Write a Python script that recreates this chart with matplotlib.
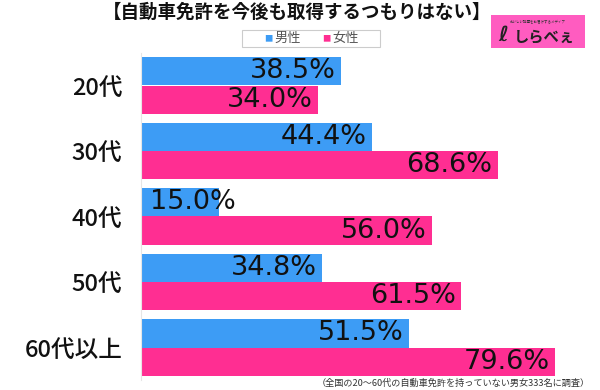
import matplotlib
matplotlib.use("Agg")
import matplotlib.pyplot as plt
from matplotlib.patches import Rectangle
import numpy as np

plt.rcParams['font.family'] = ['Noto Sans CJK JP', 'DejaVu Sans']

title = "【自動車免許を今後も取得するつもりはない】"
categories = ["20代", "30代", "40代", "50代", "60代以上"]
series_names = ["男性", "女性"]
male = [38.5, 44.4, 15.0, 34.8, 51.5]
female = [34.0, 68.6, 56.0, 61.5, 79.6]
footnote = "（全国の20〜60代の自動車免許を持っていない男女333名に調査）"

blue = "#3D9CF5"
pink = "#FF2E92"

fig = plt.figure(figsize=(6, 3.9), dpi=100)
ax = fig.add_axes([141/600, 1-380.25/390, 1-141/600, (380.25-52.75)/390])

y = np.arange(len(categories))
h = 0.43
off = 0.215
ax.barh(y - off, male, height=h, color=blue)
ax.barh(y + off, female, height=h, color=pink)

ax.set_xlim(0, 459/5.2)
ax.set_ylim(len(categories) - 0.5, -0.5)
ax.set_yticks(y)
ax.set_yticklabels(categories, fontsize=17, family=['Noto Sans CJK JP'],
                   fontweight='medium', color='#111111')
ax.tick_params(axis='y', length=0, pad=13.5)
ax.set_xticks([])
for s in ['top', 'right', 'bottom']:
    ax.spines[s].set_visible(False)
ax.spines['left'].set_color('#e6e6e6')
ax.spines['left'].set_linewidth(0.8)

def label(vals, yy):
    for v, yc in zip(vals, yy):
        txt = f"{v:.1f}%"
        if v < 25:
            ax.text(1.7, yc, txt, ha='left', va='center', fontsize=19.5,
                    family=['DejaVu Sans'], color='#111111')
        else:
            ax.text(v - 1.0, yc, txt, ha='right', va='center', fontsize=19.5,
                    family=['DejaVu Sans'], color='#111111')

label(male, y - off)
label(female, y + off)

fig.text(0.495, 1-12/390, title, ha='center', va='center', fontsize=13.3,
         fontweight='bold', color='#111111')

# legend
fig.patches.append(Rectangle((242/600, 1-47/390), 138/600, 17/390,
                             transform=fig.transFigure, facecolor='white',
                             edgecolor='#cccccc', linewidth=0.8))
fig.text(268/600, 1-38.5/390, "■", color=blue, fontsize=6, ha='center', va='center')
fig.text(274/600, 1-38.5/390, series_names[0], color='#555555', fontsize=9.5,
         ha='left', va='center')
fig.text(326/600, 1-38.5/390, "■", color=pink, fontsize=6, ha='center', va='center')
fig.text(332/600, 1-38.5/390, series_names[1], color='#555555', fontsize=9.5,
         ha='left', va='center')

# logo
fig.patches.append(Rectangle((491/600, 1-48/390), 94/600, 33/390,
                             transform=fig.transFigure, facecolor='#FF5CC0',
                             edgecolor='none'))
fig.text(538/600, 1-21/390, "おいしい話題をお届けするメディア", color='#333333',
         fontsize=2.5, ha='center', va='center')
fig.text(503/600, 1-35/390, "ℓ", color='#222222', fontsize=15, ha='center',
         va='center', family=['DejaVu Sans'], fontweight='bold')
fig.text(544/600, 1-36/390, "しらべぇ", color='#222222', fontsize=11,
         ha='center', va='center', fontweight='bold')

fig.text(590/600, 1-383/390, footnote, ha='right', va='center', fontsize=6.6,
         color='#333333')

fig.savefig("out.png", dpi=100)
